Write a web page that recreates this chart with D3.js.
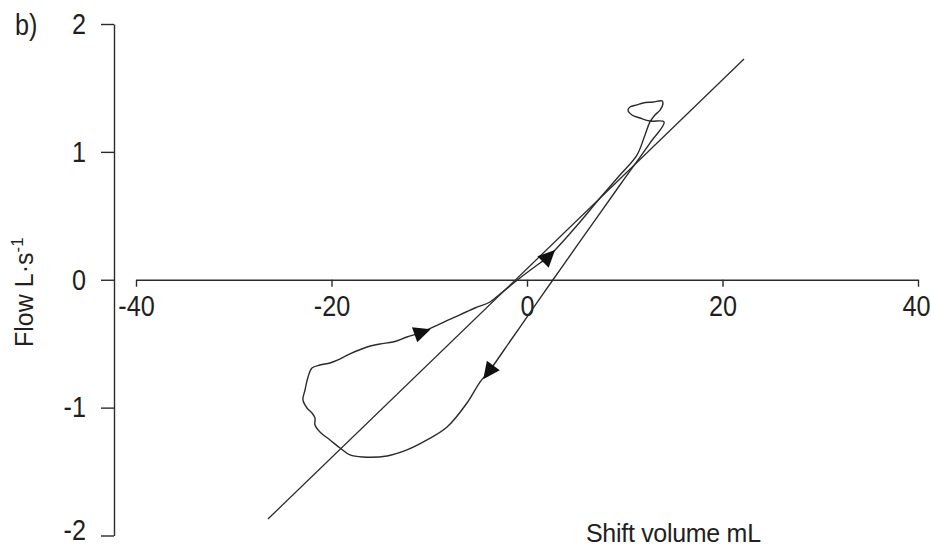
<!DOCTYPE html>
<html>
<head>
<meta charset="utf-8">
<script src="https://cdn.jsdelivr.net/npm/d3@7"></script>
<style>
  html, body { margin: 0; padding: 0; background: #fff; }
  svg { display: block; }
  text { font-family: "Liberation Sans", Arial, Helvetica, sans-serif; fill: #231f20; }
</style>
</head>
<body>
<svg id="chart" width="931" height="546"></svg>
<script>
// Axis ticks
const xTicks = [-40, -20, 0, 20, 40];
const yTicks = [-2, -1, 0, 1, 2];

// Flow / shift-volume loop (mL, L/s), traced in the direction of the breath
const loopX = [14.02, 12.58, 9.51, 5.17, 2.66, 0.15, -1.64, -3.79, -4.81, -6.14,
  -8.18, -10.23, -12.28, -14.32, -16.78, -18.11, -19.13, -20.15, -21.18, -21.69,
  -21.69, -22.0, -22.51, -22.92, -22.71, -22.4, -22.0, -21.18, -20.15, -19.34,
  -18.11, -16.37, -15.04, -13.71, -12.28, -10.95, -10.23, -7.57, -5.32, -3.79,
  -2.76, -1.74, -0.72, 1.33, 2.05, 4.71, 7.47, 9.51, 11.25, 12.07,
  12.58, 13.09, 13.61, 13.91, 13.81, 12.89, 11.87, 11.25, 10.54, 10.33,
  10.74, 11.56, 12.58];
const loopY = [1.234, 1.069, 0.741, 0.272, 0.0, -0.275, -0.471, -0.706, -0.800, -0.964,
  -1.152, -1.253, -1.331, -1.378, -1.386, -1.370, -1.316, -1.253, -1.190, -1.136,
  -1.081, -1.042, -1.003, -0.940, -0.862, -0.760, -0.690, -0.667, -0.651, -0.627,
  -0.580, -0.526, -0.502, -0.487, -0.448, -0.416, -0.393, -0.299, -0.221, -0.174,
  -0.111, -0.049, 0.014, 0.131, 0.170, 0.389, 0.639, 0.819, 0.975, 1.132,
  1.234, 1.288, 1.327, 1.382, 1.398, 1.390, 1.382, 1.367, 1.351, 1.327,
  1.288, 1.265, 1.241];

// Straight fit line end points
const fitX = [-26.5, 22.2];
const fitY = [-1.871, 1.726];

// Loop points that carry a direction arrow
const arrowIdx = [7, 35, 44];

const svg = d3.select("#chart");
const ink = "#2b2b2b";
const squeeze = 0.87;   // narrow figure style for numerals

const x = d3.scaleLinear().domain([-40, 40]).range([136, 918]);
const y = d3.scaleLinear().domain([-2, 2]).range([535.5, 24]);

// X axis through flow = 0
const gx = svg.append("g")
  .attr("transform", `translate(0,${y(0)})`)
  .call(d3.axisBottom(x).tickValues(xTicks).tickSize(7).tickSizeOuter(0)
    .tickPadding(9).tickFormat(d => String(d)));

// Y axis
const gy = svg.append("g")
  .attr("transform", `translate(114,0)`)
  .call(d3.axisLeft(y).tickValues(yTicks).tickSize(13).tickSizeOuter(0)
    .tickPadding(15).tickFormat(d => String(d)));

[gx, gy].forEach(g => {
  g.attr("font-family", null).attr("font-size", null);
  g.select(".domain").attr("stroke", ink).attr("stroke-width", 1.4);
  g.selectAll(".tick line").attr("stroke", ink).attr("stroke-width", 1.4);
  g.selectAll(".tick text")
    .style("font-size", "29px")
    .attr("fill", "#231f20")
    .attr("transform", `scale(${squeeze},1)`);
});
// keep the squeezed labels at their tick positions, inside the page edges
gy.selectAll(".tick text").attr("x", -28 / squeeze).attr("dy", "0.32em");
gy.selectAll(".tick text").filter(d => d === -2).attr("dy", "0.14em");
gx.selectAll(".tick text").filter(d => d === 40).attr("dx", -2 / squeeze);

// Fit line
const lineGen = d3.line().x(d => x(d[0])).y(d => y(d[1]));
svg.append("path")
  .attr("d", lineGen(d3.zip(fitX, fitY)))
  .attr("fill", "none")
  .attr("stroke", ink)
  .attr("stroke-width", 1.3);

// Loop
const loopPts = d3.zip(loopX, loopY);
const loopGen = d3.line()
  .x(d => x(d[0])).y(d => y(d[1]))
  .curve(d3.curveCatmullRomClosed.alpha(0.5));
svg.append("path")
  .attr("d", loopGen(loopPts))
  .attr("fill", "none")
  .attr("stroke", ink)
  .attr("stroke-width", 1.4)
  .attr("stroke-linejoin", "round");

// Direction arrows along the loop
const n = loopPts.length;
const hLen = 17, half = 8;
svg.append("g").selectAll("path")
  .data(arrowIdx)
  .join("path")
  .attr("d", `M${hLen * 2 / 3},0L${-hLen / 3},${half}L${-hLen / 3},${-half}Z`)
  .attr("fill", "#111")
  .attr("transform", i => {
    const a = loopPts[(i - 1 + n) % n], b = loopPts[(i + 1) % n];
    const ang = Math.atan2(y(b[1]) - y(a[1]), x(b[0]) - x(a[0])) * 180 / Math.PI;
    return `translate(${x(loopPts[i][0])},${y(loopPts[i][1])}) rotate(${ang})`;
  });

// Panel letter
svg.append("text")
  .attr("transform", `translate(15,35) scale(${squeeze},1)`)
  .style("font-size", "29px").text("b)");

// Axis titles
svg.append("text").attr("x", 586).attr("y", 542)
  .style("font-size", "25px").style("letter-spacing", "-0.3px")
  .text("Shift volume mL");

const yt = svg.append("text")
  .attr("transform", "translate(33,347) rotate(-90)")
  .style("font-size", "25px");
yt.append("tspan").text("Flow L\u00B7s");
yt.append("tspan").attr("dy", -10).style("font-size", "17px").text("-1");
</script>
</body>
</html>
